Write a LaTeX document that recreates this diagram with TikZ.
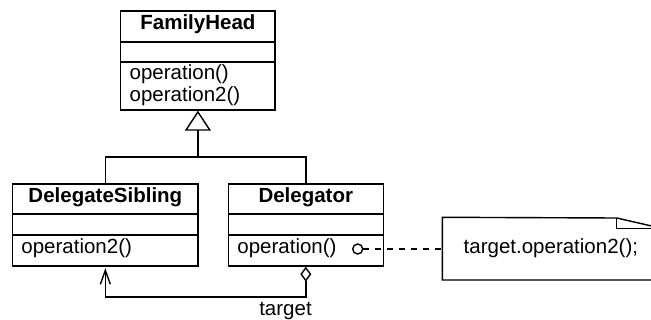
\documentclass[tikz,border=0pt]{standalone}
\usepackage{fontspec}
\setmainfont{Liberation Sans}
\usetikzlibrary{arrows.meta}
\begin{document}
\begin{tikzpicture}[x=1pt,y=-1pt,line width=1.4pt,
  classbox/.style={draw,rectangle,inner sep=0pt},
  txt/.style={inner sep=0pt,font=\fontsize{20.5}{22}\selectfont},
  title/.style={txt,anchor=base,font=\fontsize{20.5}{22}\selectfont\bfseries},
  member/.style={txt,anchor=base west},
  ball/.style={draw,circle,fill=white,minimum size=10pt,inner sep=0pt},
  inherit/.style={-{Triangle[open,length=20pt,width=26pt,line width=1.4pt]}},
  aggregate/.style={{Diamond[open,length=15pt,width=11pt,line width=1.4pt]}-{Straight Barb[length=14pt,width=10pt,line width=1.4pt]}},
  notelink/.style={dash pattern=on 6pt off 6pt}]
\useasboundingbox (0,0) rectangle (651,320);
\clip (0,0) rectangle (651,320);

% FamilyHead class
\node[classbox,minimum width=154.3pt,minimum height=99pt] (fh) at (197.9,60.5) {};
\draw (fh.west |- 0,42) -- (fh.east |- 0,42);
\draw (fh.west |- 0,62) -- (fh.east |- 0,62);
\node[title] (fhname) at (197.9,30) {FamilyHead};
\node[member] (fhop1) at (129,79.7) {operation()};
\node[member] (fhop2) at (129,101.7) {operation2()};

% DelegateSibling class
\node[classbox,minimum width=185.3pt,minimum height=82pt] (ds) at (105.35,225) {};
\draw (ds.west |- 0,214) -- (ds.east |- 0,214);
\draw (ds.west |- 0,235) -- (ds.east |- 0,235);
\node[title] (dsname) at (105.35,202.7) {DelegateSibling};
\node[member] (dsop) at (20.7,253.3) {operation2()};

% Delegator class
\node[classbox,minimum width=155pt,minimum height=82pt] (dg) at (305.8,225) {};
\draw (dg.west |- 0,214) -- (dg.east |- 0,214);
\draw (dg.west |- 0,235) -- (dg.east |- 0,235);
\node[title] (dgname) at (305.8,202.7) {Delegator};
\node[member] (dgop) at (236.7,253.3) {operation()};
\node[ball] (pin) at (357.7,249) {};

% generalization
\coordinate (join) at (197.9,157);
\draw (ds.north) |- (join) -| (dg.north);
\draw[inherit] (join) -- (fh.south);

% aggregation "target"
\coordinate (aggbend) at (305.8,297.2);
\draw[aggregate] (dg.south) -- (aggbend) -| ([yshift=-1.5pt]ds.south);
\node[txt,anchor=base] (tgt) at (285.5,315.3) {target};

% note with folded corner
\node[rectangle,inner sep=0pt,minimum width=218pt,minimum height=61.3pt] (note) at (552,248.65) {};
\draw (note.north west) -- (616.7,218) -- (note.east |- 0,228.3) -- (note.south east) -- (note.south west) -- cycle;
\draw (616.7,218) -- (616.7,228.3) -- (note.east |- 0,228.3);
\node[member] (notetext) at (463,253.3) {target.operation2();};
\draw[notelink] (pin.east) -- (note.west |- pin.east);
\end{tikzpicture}
\end{document}
